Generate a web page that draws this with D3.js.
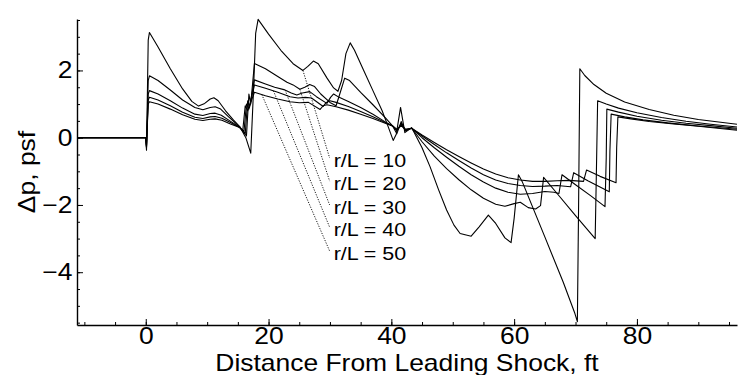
<!DOCTYPE html>
<html>
<head>
<meta charset="utf-8">
<script src="https://cdn.jsdelivr.net/npm/d3@7"></script>
<style>
  body { margin: 0; background: #fff; }
  svg { display: block; }
  text { font-family: "Liberation Sans", Arial, Helvetica, sans-serif; fill: #000; }
</style>
</head>
<body>
<svg id="chart" width="741" height="375"></svg>
<script>
// Overpressure signatures Δp(x) at several propagation distances r/L
const seriesNames = ["r/L = 10", "r/L = 20", "r/L = 30", "r/L = 40", "r/L = 50"];

const rL10 = [[-11.2,0],[0,0],[0.12,-0.37],[0.4,2.9],[0.6,3.13],[2,2.7],[4,2.05],[6,1.45],[7.5,1.08],[8.6,0.94],[9.6,1.02],[10.5,1.15],[11.1,1.19],[11.8,1.1],[13,0.8],[14.3,0.52],[15.3,0.33],[16.3,0.0],[17.1,-0.46],[17.5,1.2],[17.9,3.1],[18.3,3.52],[20,3.08],[22,2.6],[24,2.2],[25.6,2.0],[26.4,2.12],[27.3,2.28],[28.1,2.2],[29.5,1.78],[30.6,1.48],[31.3,1.38],[31.9,1.7],[32.6,2.5],[33.3,2.82],[34,2.6],[35.5,2.0],[37,1.4],[38.5,0.8],[39.3,0.42],[40.3,-0.08],[40.8,0.1],[41.5,0.9],[42.2,0.15],[43.3,0.3],[45,-0.3],[46.3,-0.86],[47.7,-1.55],[49,-2.15],[50.2,-2.6],[51.2,-2.85],[53,-2.93],[54.3,-2.65],[55.8,-2.3],[57,-2.55],[58.5,-2.98],[59.5,-3.12],[60,-2.4],[60.7,-1.1],[61.3,-1.3],[65,-2.95],[68,-4.3],[69.9,-5.23],[70.3,-5.47],[70.5,-2],[70.7,2.05],[71.5,1.85],[73,1.58],[75,1.32],[78,1.06],[82,0.84],[86,0.67],[90,0.54],[96.3,0.4]];

const rL20 = [[-11.2,0],[0,0],[0.12,-0.3],[0.4,1.7],[0.6,1.84],[2,1.7],[4,1.42],[6,1.12],[8,0.9],[9.3,0.83],[10.5,0.9],[11.3,0.92],[12.2,0.85],[13.5,0.62],[15.3,0.32],[16.4,0.05],[16.8,1.3],[17.1,1.0],[17.7,2.21],[19.5,2.05],[21.5,1.82],[23,1.65],[24,1.57],[25.1,1.44],[25.9,1.5],[26.7,1.58],[27.5,1.52],[28.5,1.3],[30,1.05],[31,0.95],[31.6,1.3],[32.4,1.77],[33.2,1.7],[35,1.35],[37,0.98],[39,0.6],[40.2,0.35],[40.9,0.12],[41.6,0.48],[42.3,0.2],[43.3,0.28],[45,-0.12],[47,-0.55],[49,-0.92],[51,-1.25],[53,-1.55],[55,-1.8],[57,-1.98],[58.5,-2.04],[60,-1.96],[61,-1.92],[62.3,-2.08],[63.5,-2.12],[64.3,-2.02],[64.8,-1.18],[67,-1.66],[70,-2.32],[73.2,-3.0],[73.4,-1],[73.6,1.1],[75,1.0],[77,0.88],[80,0.74],[84,0.6],[88,0.49],[92,0.4],[96.3,0.32]];

const rL30 = [[-11.2,0],[0,0],[0.12,-0.28],[0.4,1.3],[0.6,1.4],[2,1.3],[4,1.1],[6,0.88],[8,0.7],[9.3,0.66],[10.5,0.72],[11.3,0.73],[12.3,0.67],[13.7,0.5],[15.3,0.31],[16.2,0.12],[16.6,1.1],[16.9,0.9],[17.7,1.72],[19.5,1.6],[21,1.5],[22.5,1.43],[23.7,1.33],[24.6,1.27],[25.5,1.33],[26.7,1.37],[27.8,1.22],[29.5,1.02],[30.1,1.2],[30.6,1.3],[31.5,1.2],[33,1.08],[35,0.9],[37,0.7],[39,0.47],[40.2,0.35],[40.9,0.2],[41.6,0.42],[42.3,0.22],[43.3,0.28],[45,0.0],[47,-0.3],[49,-0.58],[51,-0.85],[53,-1.1],[55,-1.32],[57,-1.5],[59,-1.62],[61,-1.68],[63,-1.66],[65,-1.6],[66.5,-1.62],[67.3,-1.66],[67.8,-1.1],[70,-1.4],[72.5,-1.73],[74.8,-2.05],[75,-0.6],[75.1,0.85],[77,0.76],[80,0.64],[84,0.52],[88,0.43],[92,0.36],[96.3,0.28]];

const rL40 = [[-11.2,0],[0,0],[0.12,-0.25],[0.4,1.12],[0.6,1.2],[2,1.12],[4,0.95],[6,0.76],[8,0.61],[9.3,0.57],[10.5,0.62],[11.3,0.63],[12.4,0.58],[13.8,0.45],[15.3,0.3],[16,0.18],[16.4,1.0],[16.8,0.85],[17.7,1.57],[19.5,1.47],[21.5,1.35],[23.5,1.22],[24.8,1.18],[26,1.2],[27,1.18],[28.9,0.93],[29.4,1.05],[30,1.1],[31,1.05],[33,0.93],[35,0.78],[37,0.62],[39,0.45],[40.2,0.35],[40.9,0.22],[41.6,0.38],[42.3,0.24],[43.3,0.28],[45,0.05],[47,-0.2],[49,-0.45],[51,-0.68],[53,-0.9],[55,-1.1],[57,-1.26],[59,-1.36],[61,-1.42],[63,-1.45],[65,-1.44],[67,-1.42],[69.2,-1.46],[69.7,-1.04],[72,-1.28],[75.5,-1.61],[75.6,-0.4],[75.8,0.7],[78,0.62],[81,0.53],[85,0.44],[90,0.35],[96.3,0.25]];

const rL50 = [[-11.2,0],[0,0],[0.12,-0.22],[0.4,1.0],[0.6,1.07],[2,1.0],[4,0.85],[6,0.68],[8,0.55],[9.3,0.51],[10.5,0.55],[11.3,0.56],[12.4,0.52],[13.8,0.41],[15.3,0.3],[15.8,0.22],[16.2,0.95],[16.6,0.8],[17.7,1.35],[19.5,1.25],[21.5,1.15],[23.5,1.07],[25,1.04],[26.5,1.05],[28.4,0.84],[28.9,0.95],[29.5,0.98],[31,0.92],[33,0.82],[35,0.7],[37,0.57],[39,0.43],[40.2,0.35],[40.9,0.25],[41.6,0.35],[42.3,0.25],[43.3,0.28],[45,0.08],[47,-0.14],[49,-0.36],[51,-0.56],[53,-0.75],[55,-0.93],[57,-1.08],[59,-1.19],[61,-1.26],[63,-1.3],[65,-1.3],[67,-1.28],[69,-1.27],[71.3,-1.3],[71.8,-0.96],[74,-1.15],[76.6,-1.34],[76.7,-0.3],[76.9,0.62],[79,0.56],[82,0.48],[86,0.41],[90,0.34],[96.3,0.22]];

const seriesValues = [rL10, rL20, rL30, rL40, rL50];

// Tick values
const xTickLabels = [0, 20, 40, 60, 80];
const xMinorTicks = d3.range(-10, 96, 5);
const yTickLabels = [-4, -2, 0, 2];
const yMinorTicks = d3.range(-5.5, 3.51, 0.5);

// Annotation: where each leader line touches its curve, and where its label sits
const leaderAnchorX = [25.6, 25.1, 22.7, 20.8, 18.9];
const labelAt = [[30.6, -0.66], [30.6, -1.35], [30.6, -2.06], [30.6, -2.72], [30.6, -3.43]];

const svg = d3.select("#chart");
const plot = { left: 77, right: 737, top: 19, bottom: 325 };
const wide = "scale(1.15,1)"; // the lettering is set slightly extended

const x = d3.scaleLinear().domain([-11.2, 96.3]).range([plot.left, plot.right]);
const y = d3.scaleLinear().domain([-5.57, 3.53]).range([plot.bottom, plot.top]);

// Minor ticks (inward)
svg.append("g")
  .attr("transform", `translate(0,${plot.bottom})`)
  .call(d3.axisBottom(x).tickValues(xMinorTicks).tickSize(-3).tickFormat(""))
  .call(g => g.select(".domain").remove());
svg.append("g")
  .attr("transform", `translate(${plot.left},0)`)
  .call(d3.axisLeft(y).tickValues(yMinorTicks).tickSize(-3).tickFormat(""))
  .call(g => g.select(".domain").remove());

// Major axes
svg.append("g")
  .attr("transform", `translate(0,${plot.bottom})`)
  .call(d3.axisBottom(x).tickValues(xTickLabels).tickSizeInner(-6).tickSizeOuter(0).tickPadding(3));
svg.append("g")
  .attr("transform", `translate(${plot.left},0)`)
  .call(d3.axisLeft(y).tickValues(yTickLabels).tickSizeInner(-6).tickSizeOuter(0).tickPadding(4));

svg.selectAll(".domain").attr("stroke", "#000").attr("stroke-width", 1.4);
svg.selectAll(".tick line").attr("stroke", "#000").attr("stroke-width", 1);
svg.selectAll(".tick text")
  .attr("font-size", 23)
  .attr("font-family", null)
  .attr("transform", wide);

// Axis titles
svg.append("g")
  .attr("transform", `translate(${(plot.left + plot.right) / 2},371) ${wide}`)
  .append("text")
  .attr("text-anchor", "middle")
  .attr("font-size", 23)
  .text("Distance From Leading Shock, ft");

svg.append("g")
  .attr("transform", `translate(35,${(plot.top + plot.bottom) / 2}) rotate(-90) ${wide}`)
  .append("text")
  .attr("text-anchor", "middle")
  .attr("font-size", 23)
  .text("Δp, psf");

// Curves
const line = d3.line().x(d => x(d[0])).y(d => y(d[1]));
svg.append("g")
  .selectAll("path")
  .data(seriesValues)
  .join("path")
  .attr("d", line)
  .attr("fill", "none")
  .attr("stroke", "#000")
  .attr("stroke-width", 1.1)
  .attr("stroke-linejoin", "round");

// Value of a curve at a given distance (for attaching the leader lines)
function valueAt(series, xv) {
  const i = d3.bisector(d => d[0]).left(series, xv);
  const a = series[Math.max(0, i - 1)], b = series[Math.min(series.length - 1, i)];
  if (b[0] === a[0]) return a[1];
  const t = (xv - a[0]) / (b[0] - a[0]);
  return a[1] + t * (b[1] - a[1]);
}

// Dotted leader lines and labels
const ann = svg.append("g");
seriesNames.forEach((name, i) => {
  const ax = leaderAnchorX[i];
  const ay = valueAt(seriesValues[i], ax);
  const [lx, ly] = labelAt[i];
  ann.append("line")
    .attr("x1", x(ax)).attr("y1", y(ay))
    .attr("x2", x(lx) - 4).attr("y2", y(ly) - 2)
    .attr("stroke", "#000")
    .attr("stroke-width", 0.9)
    .attr("stroke-dasharray", "1.2,1.4");
  ann.append("g")
    .attr("transform", `translate(${x(lx)},${y(ly)}) scale(1.16,1)`)
    .append("text")
    .attr("dy", "0.36em")
    .attr("font-size", 18.5)
    .text(name);
});
</script>
</body>
</html>
